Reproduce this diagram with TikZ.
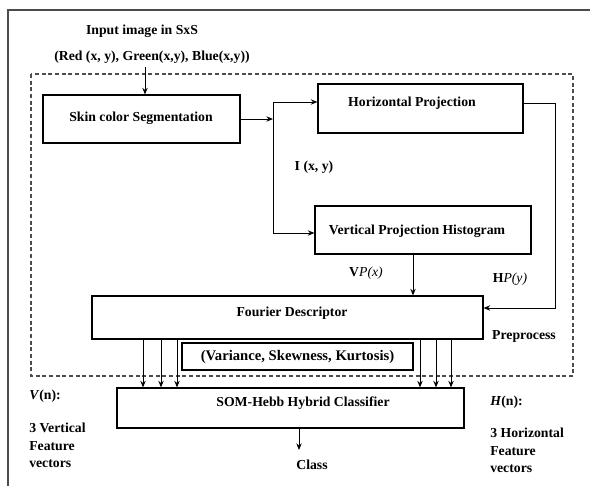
\documentclass[tikz,border=0pt]{standalone}
\usepackage{fontspec}
\setmainfont{Liberation Serif}
\usetikzlibrary{arrows.meta}
\begin{document}
\begin{tikzpicture}[x=0.75pt,y=-0.75pt,
  box/.style={draw=black,line width=0.8pt,rectangle,inner sep=0pt},
  txt/.style={font=\fontsize{10.3}{13}\selectfont\bfseries,inner sep=0pt},
  conn/.style={line width=0.7pt,-{Stealth[length=5pt,width=4pt]}},
  plain/.style={line width=0.7pt}]
\useasboundingbox (0,0) rectangle (590,486);
% outer frame (cropped)
\draw[line width=1pt,black!70] (8,486) -- (8,10) -- (590,10);
% dashed preprocess region
\draw[black!70,line width=0.8pt,dash pattern=on 3pt off 2pt] (31,74) rectangle (573,376);
% boxes
\node[box,minimum width=197*0.75pt,minimum height=48*0.75pt] (skin) at (141.5,119) {};
\node[box,minimum width=205*0.75pt,minimum height=49*0.75pt] (hp) at (420.5,108.5) {};
\node[box,minimum width=216*0.75pt,minimum height=48*0.75pt] (vp) at (423,230) {};
\node[box,minimum width=391*0.75pt,minimum height=43*0.75pt] (fd) at (287.5,317.5) {};
\node[box,minimum width=231*0.75pt,minimum height=27*0.75pt] (var) at (297.5,356.5) {};
\node[box,minimum width=347*0.75pt,minimum height=40*0.75pt] (som) at (290.5,408) {};
% box texts
\node[txt] (skint) at (141,118) {Skin color Segmentation};
\node[txt] (hpt) at (412,103) {Horizontal Projection};
\node[txt] (vpt) at (417,231) {Vertical Projection Histogram};
\node[txt] (fdt) at (292,313) {Fourier Descriptor};
\node[txt,font=\fontsize{11}{13}\selectfont\bfseries] (vart) at (297.5,357) {(Variance, Skewness, Kurtosis)};
\node[txt] (somt) at (303,403) {SOM-Hebb Hybrid Classifier};
% free labels
\node[txt] (inp) at (142,31) {Input image in SxS};
\node[txt] (rgb) at (152,57) {(Red (x, y), Green(x,y), Blue(x,y))};
\node[txt] (ixy) at (314,167) {I (x, y)};
\node[txt] (vpx) at (366,273) {V\normalfont\itshape P(x)};
\node[txt] (hpy) at (510,279) {H\normalfont\itshape P(y)};
\node[txt] (pre) at (524,336) {Preprocess};
\node[txt] (cls) at (312,465) {Class};
\node[txt,anchor=west] (vn) at (29,396) {\textit{V}(n):};
\node[txt,anchor=north west,align=left] (vfeat) at (29,423) {3 Vertical\\Feature\\vectors};
\node[txt,anchor=north west,align=left] (hfeat) at (490,428) {3 Horizontal\\Feature\\vectors};
\node[txt,anchor=west] (hn) at (490,402) {\textit{H}(n):};
% connectors
\coordinate (inA) at (145,67);
\draw[conn] (inA) -- (145,95 |- skin.north);
\coordinate (jmid) at (273,119);
\coordinate (jtop) at (273,102);
\coordinate (jbot) at (273,233);
\draw[conn] (skin.east |- jmid) -- (jmid);
\draw[plain] (jtop) -- (jbot);
\draw[conn] (jtop) -- (jtop -| hp.west);
\draw[conn] (jbot) -- (jbot -| vp.west);
\coordinate (hpr) at (555,103);
\draw[conn] (hpr -| hp.east) -- (hpr) -- (555,308) -- (fd.east |- 0,308);
\draw[conn] (413,0 |- vp.south) -- (413,0 |- fd.north);
\foreach \xx in {143,161,177,420,436,451}
  \draw[conn] (\xx,0 |- fd.south) -- (\xx,0 |- som.north);
\coordinate (clsA) at (299,450);
\draw[conn] (299,0 |- som.south) -- (clsA);
\end{tikzpicture}
\end{document}
